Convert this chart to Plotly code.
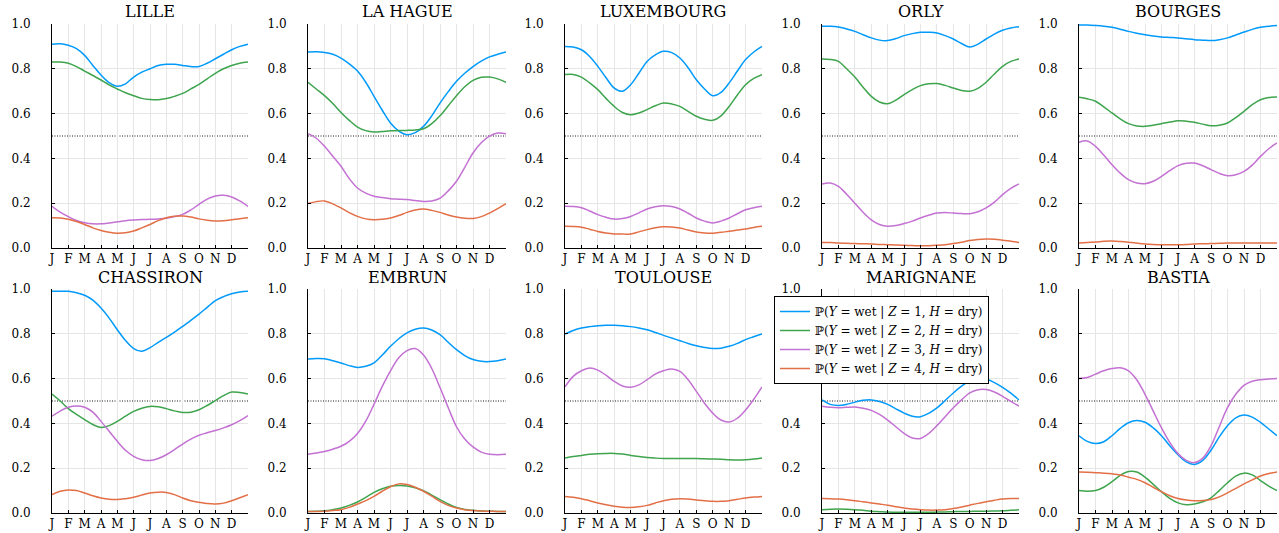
import plotly.graph_objects as go
from plotly.subplots import make_subplots

# Time axis: half-month steps over one year (in months, 0 = 1 January, 12 = 31 December)
months = [i * 0.5 for i in range(25)]
month_ticks = list(range(13))
month_labels = ["J", "F", "M", "A", "M", "J", "J", "A", "S", "O", "N", "D", ""]

stations = ["LILLE", "LA HAGUE", "LUXEMBOURG", "ORLY", "BOURGES",
            "CHASSIRON", "EMBRUN", "TOULOUSE", "MARIGNANE", "BASTIA"]

# P(Y = wet | Z = k, H = dry), one list per hidden state k, per station
lille_z1 = [0.91, 0.912, 0.905, 0.89, 0.86, 0.815, 0.772, 0.738, 0.722, 0.733, 0.763, 0.785, 0.80,
            0.815, 0.82, 0.82, 0.815, 0.81, 0.81, 0.825, 0.845, 0.865, 0.885, 0.90, 0.91]
lille_z2 = [0.83, 0.83, 0.825, 0.81, 0.79, 0.77, 0.75, 0.728, 0.71, 0.693, 0.68, 0.668, 0.663,
            0.662, 0.667, 0.677, 0.69, 0.71, 0.73, 0.755, 0.78, 0.80, 0.815, 0.825, 0.83]
lille_z3 = [0.186, 0.16, 0.14, 0.123, 0.113, 0.108, 0.108, 0.112, 0.117, 0.122, 0.125, 0.127, 0.128,
            0.13, 0.133, 0.14, 0.15, 0.17, 0.195, 0.218, 0.232, 0.235, 0.228, 0.21, 0.186]
lille_z4 = [0.135, 0.134, 0.128, 0.118, 0.105, 0.09, 0.078, 0.07, 0.066, 0.068, 0.076, 0.09, 0.105,
            0.122, 0.135, 0.142, 0.143, 0.138, 0.13, 0.124, 0.121, 0.122, 0.126, 0.131, 0.135]

lahague_z1 = [0.875, 0.876, 0.873, 0.865, 0.848, 0.822, 0.79, 0.74, 0.677, 0.615, 0.558, 0.522, 0.506,
              0.515, 0.543, 0.59, 0.647, 0.698, 0.744, 0.78, 0.81, 0.834, 0.853, 0.865, 0.875]
lahague_z2 = [0.74, 0.71, 0.68, 0.645, 0.605, 0.57, 0.54, 0.524, 0.518, 0.52, 0.523, 0.524, 0.525,
              0.527, 0.532, 0.555, 0.59, 0.635, 0.68, 0.72, 0.748, 0.762, 0.763, 0.755, 0.74]
lahague_z3 = [0.51, 0.49, 0.454, 0.41, 0.365, 0.31, 0.268, 0.245, 0.231, 0.225, 0.22, 0.218, 0.216,
              0.212, 0.208, 0.21, 0.222, 0.255, 0.298, 0.36, 0.424, 0.47, 0.499, 0.513, 0.51]
lahague_z4 = [0.198, 0.207, 0.21, 0.197, 0.179, 0.158, 0.141, 0.13, 0.126, 0.128, 0.134, 0.145, 0.159,
              0.17, 0.174, 0.168, 0.159, 0.147, 0.138, 0.133, 0.132, 0.14, 0.156, 0.176, 0.198]

luxembourg_z1 = [0.90, 0.897, 0.885, 0.855, 0.811, 0.76, 0.714, 0.70, 0.729, 0.78, 0.833, 0.862, 0.878,
                 0.872, 0.848, 0.805, 0.751, 0.71, 0.68, 0.695, 0.737, 0.79, 0.841, 0.875, 0.90]
luxembourg_z2 = [0.774, 0.775, 0.763, 0.737, 0.707, 0.668, 0.632, 0.605, 0.595, 0.603, 0.618, 0.635, 0.647,
                 0.643, 0.632, 0.61, 0.588, 0.575, 0.57, 0.59, 0.632, 0.683, 0.729, 0.757, 0.774]
luxembourg_z3 = [0.186, 0.185, 0.18, 0.165, 0.149, 0.137, 0.129, 0.132, 0.141, 0.157, 0.174, 0.184, 0.189,
                 0.185, 0.174, 0.155, 0.134, 0.12, 0.112, 0.12, 0.134, 0.153, 0.171, 0.18, 0.186]
luxembourg_z4 = [0.097, 0.096, 0.093, 0.084, 0.074, 0.067, 0.063, 0.062, 0.063, 0.072, 0.082, 0.09, 0.095,
                 0.094, 0.089, 0.08, 0.071, 0.067, 0.066, 0.07, 0.075, 0.08, 0.085, 0.092, 0.097]

orly_z1 = [0.99, 0.99, 0.987, 0.978, 0.967, 0.952, 0.938, 0.928, 0.926, 0.935, 0.948, 0.957, 0.963,
           0.963, 0.96, 0.948, 0.933, 0.913, 0.897, 0.91, 0.933, 0.955, 0.972, 0.982, 0.988]
orly_z2 = [0.844, 0.842, 0.833, 0.80, 0.763, 0.718, 0.677, 0.652, 0.644, 0.66, 0.685, 0.707, 0.725,
           0.733, 0.734, 0.726, 0.714, 0.703, 0.70, 0.713, 0.74, 0.777, 0.811, 0.833, 0.844]
orly_z3 = [0.286, 0.29, 0.275, 0.24, 0.20, 0.16, 0.126, 0.105, 0.097, 0.10, 0.109, 0.12, 0.134,
           0.146, 0.156, 0.158, 0.156, 0.154, 0.153, 0.162, 0.179, 0.205, 0.238, 0.266, 0.286]
orly_z4 = [0.025, 0.024, 0.022, 0.021, 0.02, 0.019, 0.018, 0.016, 0.015, 0.013, 0.012, 0.011, 0.01,
           0.01, 0.012, 0.015, 0.02, 0.026, 0.033, 0.038, 0.04, 0.039, 0.035, 0.03, 0.025]

bourges_z1 = [0.995, 0.995, 0.993, 0.99, 0.985, 0.977, 0.967, 0.959, 0.952, 0.946, 0.942, 0.94, 0.938,
              0.934, 0.93, 0.928, 0.926, 0.93, 0.938, 0.951, 0.964, 0.976, 0.985, 0.99, 0.993]
bourges_z2 = [0.673, 0.666, 0.655, 0.63, 0.603, 0.576, 0.555, 0.545, 0.543, 0.548, 0.555, 0.562, 0.568,
              0.566, 0.561, 0.553, 0.546, 0.548, 0.558, 0.582, 0.61, 0.64, 0.662, 0.672, 0.674]
bourges_z3 = [0.472, 0.478, 0.454, 0.415, 0.372, 0.334, 0.305, 0.29, 0.287, 0.298, 0.32, 0.345, 0.368,
              0.378, 0.379, 0.367, 0.35, 0.333, 0.323, 0.327, 0.342, 0.37, 0.409, 0.443, 0.469]
bourges_z4 = [0.022, 0.025, 0.027, 0.03, 0.031, 0.029, 0.026, 0.022, 0.018, 0.016, 0.015, 0.015, 0.015,
              0.016, 0.018, 0.019, 0.02, 0.021, 0.022, 0.022, 0.022, 0.022, 0.022, 0.022, 0.022]

chassiron_z1 = [0.99, 0.99, 0.99, 0.983, 0.972, 0.95, 0.915, 0.87, 0.818, 0.77, 0.734, 0.722, 0.738,
                0.762, 0.784, 0.808, 0.833, 0.86, 0.888, 0.918, 0.948, 0.966, 0.979, 0.987, 0.99]
chassiron_z2 = [0.531, 0.50, 0.466, 0.44, 0.417, 0.395, 0.382, 0.39, 0.409, 0.432, 0.454, 0.468, 0.476,
                0.474, 0.466, 0.456, 0.449, 0.45, 0.461, 0.48, 0.502, 0.524, 0.54, 0.538, 0.531]
chassiron_z3 = [0.432, 0.455, 0.472, 0.478, 0.472, 0.45, 0.409, 0.365, 0.32, 0.28, 0.253, 0.238, 0.234,
                0.243, 0.26, 0.283, 0.308, 0.33, 0.347, 0.358, 0.368, 0.38, 0.394, 0.412, 0.435]
chassiron_z4 = [0.082, 0.097, 0.103, 0.10, 0.089, 0.077, 0.067, 0.061, 0.06, 0.064, 0.07, 0.08, 0.089,
                0.093, 0.092, 0.082, 0.067, 0.055, 0.048, 0.042, 0.04, 0.044, 0.055, 0.068, 0.082]

embrun_z1 = [0.688, 0.69, 0.689, 0.68, 0.67, 0.658, 0.65, 0.655, 0.67, 0.705, 0.744, 0.778, 0.804,
             0.82, 0.826, 0.817, 0.796, 0.762, 0.729, 0.703, 0.685, 0.677, 0.676, 0.68, 0.688]
embrun_z2 = [0.007, 0.008, 0.01, 0.015, 0.022, 0.034, 0.049, 0.07, 0.092, 0.108, 0.119, 0.123, 0.121,
             0.113, 0.10, 0.08, 0.06, 0.04, 0.025, 0.016, 0.012, 0.009, 0.008, 0.007, 0.007]
embrun_z3 = [0.262, 0.268, 0.275, 0.285, 0.298, 0.32, 0.355, 0.41, 0.485, 0.565, 0.635, 0.693, 0.725,
             0.734, 0.705, 0.645, 0.56, 0.47, 0.385, 0.33, 0.295, 0.272, 0.262, 0.26, 0.262]
embrun_z4 = [0.007, 0.007, 0.008, 0.011, 0.015, 0.025, 0.04, 0.055, 0.074, 0.097, 0.117, 0.13, 0.127,
             0.115, 0.097, 0.075, 0.052, 0.034, 0.022, 0.015, 0.011, 0.009, 0.008, 0.007, 0.007]

toulouse_z1 = [0.799, 0.815, 0.826, 0.832, 0.836, 0.838, 0.838, 0.836, 0.832, 0.826, 0.818, 0.806, 0.793,
               0.781, 0.769, 0.757, 0.747, 0.739, 0.734, 0.736, 0.744, 0.757, 0.774, 0.787, 0.799]
toulouse_z2 = [0.246, 0.252, 0.257, 0.262, 0.265, 0.266, 0.266, 0.263, 0.257, 0.252, 0.248, 0.245, 0.243,
               0.243, 0.243, 0.243, 0.243, 0.242, 0.241, 0.24, 0.238, 0.237, 0.238, 0.241, 0.246]
toulouse_z3 = [0.563, 0.61, 0.635, 0.647, 0.638, 0.615, 0.588, 0.567, 0.561, 0.572, 0.595, 0.62, 0.635,
               0.643, 0.632, 0.595, 0.543, 0.49, 0.446, 0.415, 0.406, 0.423, 0.46, 0.508, 0.563]
toulouse_z4 = [0.074, 0.07, 0.064, 0.055, 0.045, 0.037, 0.03, 0.026, 0.025, 0.028, 0.034, 0.045, 0.055,
               0.061, 0.064, 0.062, 0.058, 0.055, 0.052, 0.052, 0.055, 0.061, 0.067, 0.071, 0.074]

marignane_z1 = [0.505, 0.485, 0.48, 0.485, 0.495, 0.503, 0.505, 0.498, 0.485, 0.465, 0.446, 0.432, 0.43,
                0.445, 0.469, 0.502, 0.536, 0.566, 0.591, 0.60, 0.598, 0.582, 0.561, 0.535, 0.505]
marignane_z2 = [0.014, 0.017, 0.018, 0.017, 0.015, 0.012, 0.008, 0.006, 0.004, 0.003, 0.003, 0.003, 0.003,
                0.003, 0.004, 0.005, 0.006, 0.007, 0.007, 0.008, 0.008, 0.009, 0.01, 0.012, 0.014]
marignane_z3 = [0.477, 0.472, 0.47, 0.472, 0.473, 0.468, 0.458, 0.44, 0.415, 0.385, 0.355, 0.335, 0.333,
                0.355, 0.39, 0.43, 0.47, 0.505, 0.536, 0.55, 0.551, 0.54, 0.521, 0.498, 0.477]
marignane_z4 = [0.065, 0.064, 0.062, 0.059, 0.055, 0.05, 0.045, 0.04, 0.035, 0.028, 0.022, 0.018, 0.015,
                0.013, 0.013, 0.015, 0.02, 0.027, 0.035, 0.043, 0.05, 0.057, 0.063, 0.065, 0.065]

bastia_z1 = [0.345, 0.32, 0.31, 0.318, 0.345, 0.378, 0.403, 0.413, 0.405, 0.38, 0.345, 0.30, 0.26,
             0.228, 0.217, 0.235, 0.28, 0.34, 0.39, 0.425, 0.437, 0.428, 0.405, 0.375, 0.345]
bastia_z2 = [0.10, 0.097, 0.10, 0.115, 0.14, 0.168, 0.185, 0.183, 0.16, 0.128, 0.095, 0.065, 0.045,
             0.037, 0.04, 0.05, 0.068, 0.10, 0.135, 0.165, 0.178, 0.17, 0.145, 0.12, 0.10]
bastia_z3 = [0.60, 0.605, 0.62, 0.635, 0.645, 0.648, 0.635, 0.595, 0.53, 0.455, 0.38, 0.315, 0.265,
             0.235, 0.225, 0.245, 0.30, 0.385, 0.47, 0.53, 0.57, 0.588, 0.595, 0.598, 0.60]
bastia_z4 = [0.183, 0.182, 0.18, 0.178, 0.175, 0.17, 0.16, 0.15, 0.135, 0.115, 0.095, 0.077, 0.065,
             0.058, 0.055, 0.056, 0.06, 0.072, 0.09, 0.11, 0.13, 0.148, 0.165, 0.176, 0.183]

station_series = [
    [lille_z1, lille_z2, lille_z3, lille_z4],
    [lahague_z1, lahague_z2, lahague_z3, lahague_z4],
    [luxembourg_z1, luxembourg_z2, luxembourg_z3, luxembourg_z4],
    [orly_z1, orly_z2, orly_z3, orly_z4],
    [bourges_z1, bourges_z2, bourges_z3, bourges_z4],
    [chassiron_z1, chassiron_z2, chassiron_z3, chassiron_z4],
    [embrun_z1, embrun_z2, embrun_z3, embrun_z4],
    [toulouse_z1, toulouse_z2, toulouse_z3, toulouse_z4],
    [marignane_z1, marignane_z2, marignane_z3, marignane_z4],
    [bastia_z1, bastia_z2, bastia_z3, bastia_z4],
]

state_names = [
    "ℙ(<i>Y</i> = wet | <i>Z</i> = 1, <i>H</i> = dry)",
    "ℙ(<i>Y</i> = wet | <i>Z</i> = 2, <i>H</i> = dry)",
    "ℙ(<i>Y</i> = wet | <i>Z</i> = 3, <i>H</i> = dry)",
    "ℙ(<i>Y</i> = wet | <i>Z</i> = 4, <i>H</i> = dry)",
]
state_colors = ["#009AFA", "#3EA44E", "#C371D2", "#E36F47"]

W, H = 1279, 533
FONT = "DejaVu Serif"

# panel placement in pixels: x spans per column, y spans per row (from top)
col_px = [(52, 248), (308, 506), (565, 762), (822, 1019), (1079, 1277)]
row_px = [(24, 248), (289, 513)]

fig = make_subplots(rows=2, cols=5)

annotations = []
for idx, (name, series) in enumerate(zip(stations, station_series)):
    r, c = divmod(idx, 5)
    for k, (vals, label, color) in enumerate(zip(series, state_names, state_colors)):
        fig.add_trace(
            go.Scatter(
                x=months, y=vals, mode="lines", name=label,
                line=dict(color=color, width=1.5, shape="spline", smoothing=1.0),
                legendgroup=f"z{k + 1}", showlegend=(idx == 0),
            ),
            row=r + 1, col=c + 1,
        )
    # reference level at 0.5
    fig.add_hline(y=0.5, row=r + 1, col=c + 1, layer="below",
                  line=dict(color="#1a1a1a", width=1, dash="1px,1.5px"))

    x0, x1 = col_px[c]
    y0, y1 = row_px[r]
    n = idx + 1
    sfx = "" if n == 1 else str(n)
    fig.layout["xaxis" + sfx].update(
        domain=[x0 / W, x1 / W], range=[0, 12], automargin=False,
        tickvals=month_ticks, ticktext=month_labels,
        ticks="inside", ticklen=3, tickcolor="black",
        showline=True, linecolor="black", linewidth=1,
        showgrid=True, gridcolor="#e6e6e6", gridwidth=1, zeroline=False,
        tickfont=dict(family=FONT, size=12, color="black"),
    )
    fig.layout["yaxis" + sfx].update(
        domain=[1 - y1 / H, 1 - y0 / H], range=[0, 1], automargin=False,
        tickvals=[0, 0.2, 0.4, 0.6, 0.8, 1.0], tickformat=".1f",
        ticks="inside", ticklen=3, tickcolor="black", ticklabelstandoff=18,
        showline=True, linecolor="black", linewidth=1,
        showgrid=True, gridcolor="#e6e6e6", gridwidth=1, zeroline=False,
        tickfont=dict(family=FONT, size=12, color="black"),
    )
    annotations.append(dict(
        text=name, x=(x0 + x1) / 2 / W, y=1 - (y0 - 12) / H,
        xref="paper", yref="paper", xanchor="center", yanchor="middle",
        showarrow=False, font=dict(family=FONT, size=16, color="black"),
    ))

fig.update_layout(
    width=W, height=H,
    margin=dict(l=0, r=0, t=0, b=0, autoexpand=False),
    paper_bgcolor="white", plot_bgcolor="white",
    annotations=annotations,
    legend=dict(
        x=774 / W, y=1 - 296 / H, xanchor="left", yanchor="top",
        bgcolor="white", bordercolor="black", borderwidth=1,
        font=dict(family=FONT, size=12, color="black"),
        tracegroupgap=0, itemwidth=30,
    ),
)

fig.write_html("out.html")
